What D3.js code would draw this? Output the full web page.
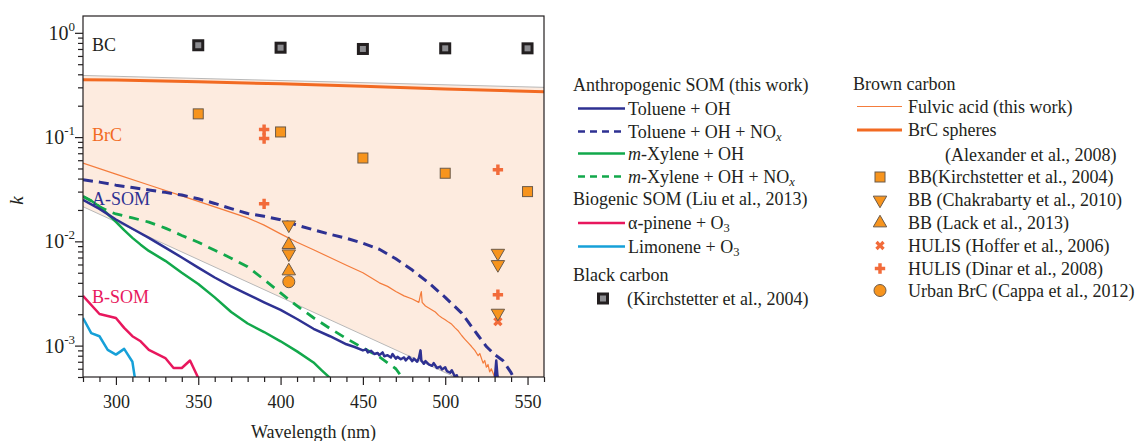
<!DOCTYPE html>
<html><head><meta charset="utf-8">
<script src="https://cdn.jsdelivr.net/npm/d3@7"></script>
<style>
body{margin:0;background:#fff}
svg{display:block}
svg text{font-family:"Liberation Serif","DejaVu Serif",serif;fill:#231f20}
</style>
</head><body>
<svg id="chart" width="1137" height="441" font-family="Liberation Serif, DejaVu Serif, serif"></svg>
<script>
// ---- data: [wavelength (nm), imaginary refractive index k] ----
const wavelengthTicks = [300, 350, 400, 450, 500, 550];
const kDecades = [1e-3, 1e-2, 1e-1, 1e0];
const kDecadeExponents = ["-3", "-2", "-1", "0"];

// shaded BrC band boundaries
const brcUpperBound = [[280, 0.39], [560, 0.30]];
const brcLowerBound = [[280, 0.0215], [560, 0.000203]];

const brcSpheres = [[280, 0.355], [300, 0.352], [350, 0.340], [400, 0.324], [450, 0.307], [500, 0.290], [560, 0.272]];

const fulvicAcid = [[280, 0.0563], [300, 0.0442], [320, 0.0347], [340, 0.0273], [360, 0.0214], [380, 0.0168],
  [390, 0.0143], [400, 0.0118], [410, 0.0098], [420, 0.0083], [430, 0.0070], [440, 0.0059], [450, 0.0050],
  [460, 0.0040], [465, 0.0037], [470, 0.0033], [475, 0.0030], [480, 0.0028], [484, 0.0026], [485, 0.0031],
  [485.5, 0.0033], [486, 0.0026], [488, 0.0024], [490, 0.0023], [492, 0.0022], [494, 0.0021], [496, 0.00195],
  [498, 0.00185], [500, 0.00177], [502, 0.00168], [504, 0.00160], [506, 0.00148], [508, 0.00138], [510, 0.00125],
  [512, 0.00115], [514, 0.00106], [516, 0.00098], [518, 0.00090], [520, 0.00080], [521, 0.00084], [523, 0.00068],
  [524, 0.00072], [525, 0.00062], [526, 0.00066], [527, 0.00056], [528, 0.00060], [530, 0.00050], [532, 0.00052],
  [534, 0.00045], [560, 0.0002]];

const tolueneOH = [[280, 0.0250], [290, 0.0205], [300, 0.0162], [310, 0.0132], [320, 0.0108], [330, 0.0087],
  [340, 0.0070], [350, 0.0056], [360, 0.0045], [370, 0.0037], [380, 0.0031], [390, 0.0026], [400, 0.0022],
  [410, 0.00180], [420, 0.00145], [430, 0.00123], [440, 0.00103], [445, 0.00097], [450, 0.00090], [452, 0.00092],
  [453, 0.00086], [455, 0.00089], [457, 0.00083], [459, 0.00085], [460, 0.00081], [462, 0.00086], [463, 0.00079],
  [465, 0.00081], [467, 0.00077], [468, 0.00083], [470, 0.00075], [471, 0.00078], [473, 0.00074], [475, 0.00077],
  [476, 0.00072], [478, 0.00078], [480, 0.00071], [481, 0.00075], [483, 0.00070], [484, 0.00076], [485, 0.00090],
  [485.5, 0.00072], [487, 0.00067], [488, 0.00071], [490, 0.00066], [492, 0.00064], [493, 0.00068], [495, 0.00061],
  [497, 0.00063], [498, 0.00059], [500, 0.00062], [501, 0.00057], [503, 0.00055], [504, 0.00058], [506, 0.00050],
  [507, 0.00052], [508, 0.00047], [510, 0.00045], [530, 0.00045], [531, 0.00072], [532, 0.00045]];

const tolueneOHNOx = [[280, 0.0390], [290, 0.0370], [300, 0.0346], [310, 0.0328], [320, 0.0311], [330, 0.0295],
  [340, 0.0278], [350, 0.0256], [360, 0.0231], [370, 0.0206], [380, 0.0185], [390, 0.0174], [400, 0.0161],
  [410, 0.0143], [420, 0.0129], [430, 0.0117], [440, 0.0107], [450, 0.0096], [460, 0.0084], [470, 0.0068],
  [480, 0.0053], [490, 0.0040], [500, 0.0029], [510, 0.00205], [520, 0.00125], [525, 0.00098], [530, 0.00082],
  [535, 0.00072], [540, 0.00055], [542, 0.00048]];

const xyleneOH = [[280, 0.0270], [285, 0.0245], [290, 0.0216], [295, 0.0183], [300, 0.0154], [305, 0.0128],
  [310, 0.0108], [315, 0.0093], [320, 0.0081], [330, 0.0065], [340, 0.0050], [350, 0.0039], [360, 0.0029],
  [370, 0.0021], [380, 0.00163], [390, 0.00135], [400, 0.00110], [410, 0.00088], [420, 0.00069], [425, 0.00058],
  [430, 0.00049]];

const xyleneOHNOx = [[280, 0.0270], [285, 0.0245], [290, 0.0215], [295, 0.0196], [300, 0.0183], [310, 0.0168],
  [320, 0.0153], [330, 0.0134], [340, 0.0114], [350, 0.0098], [360, 0.0082], [370, 0.0069], [380, 0.0057],
  [390, 0.0043], [400, 0.0032], [410, 0.0024], [420, 0.00185], [430, 0.00146], [440, 0.00117], [450, 0.00095],
  [460, 0.00078], [470, 0.00060], [474, 0.00049]];

const alphaPineneO3 = [[280, 0.00300], [290, 0.00201], [300, 0.00184], [305, 0.00148], [310, 0.00123],
  [315, 0.00110], [320, 0.00091], [330, 0.00076], [335, 0.00061], [340, 0.00061], [345, 0.00072], [350, 0.00049]];

const limoneneO3 = [[280, 0.00184], [285, 0.00132], [290, 0.00123], [295, 0.00091], [300, 0.00082],
  [305, 0.00093], [310, 0.00070], [311.5, 0.00049]];

// literature points
const bcKirchstetter = [[350, 0.76], [400, 0.72], [450, 0.70], [500, 0.71], [550, 0.71]];
const bbKirchstetter = [[350, 0.167], [400, 0.112], [450, 0.063], [500, 0.045], [550, 0.030]];
const bbChakrabarty = [[405, 0.0144], [405, 0.0076], [532, 0.0077], [532, 0.0060], [532, 0.00205]];
const bbLack = [[405, 0.0093], [405, 0.0052]];
const hulisHoffer = [[532, 0.0017]];
const hulisDinar = [[390, 0.118], [390, 0.097], [390, 0.0229], [532, 0.0486], [532, 0.00308]];
const urbanBrcCappa = [[405, 0.0041]];

// ---- drawing ----
const C = {
  navy: "#2e3192", green: "#12a84b", pink: "#e8175d", cyan: "#16a0d8",
  brc: "#f26a22", fulvic: "#f47c3c", marker: "#f7941d", plus: "#f26b3a",
  band: "#fdebdf", grey: "#b8b8b8", ink: "#231f20"
};
const SERIF = "Liberation Serif, DejaVu Serif, serif";

const svg = d3.select("#chart");
const plotLeft = 83, plotRight = 544, plotTop = 16, plotBottom = 377;
const x = d3.scaleLinear().domain([280, 560]).range([plotLeft, plotRight]);
const y = d3.scaleLog().domain([5e-4, 1.45]).range([plotBottom, plotTop]);

svg.append("defs").append("clipPath").attr("id", "plotClip")
  .append("rect").attr("x", plotLeft).attr("y", plotTop)
  .attr("width", plotRight - plotLeft).attr("height", plotBottom - plotTop);

const plot = svg.append("g").attr("clip-path", "url(#plotClip)");
const line = d3.line().x(d => x(d[0])).y(d => y(d[1]));

// BrC band
plot.append("path")
  .attr("d", line(brcUpperBound.concat(brcLowerBound.slice().reverse())) + "Z")
  .attr("fill", C.band);
[brcUpperBound, brcLowerBound].forEach(b =>
  plot.append("path").attr("d", line(b)).attr("fill", "none").attr("stroke", C.grey).attr("stroke-width", 1));

function drawLine(data, color, width, dash) {
  plot.append("path").datum(data).attr("d", line).attr("fill", "none")
    .attr("stroke", color).attr("stroke-width", width)
    .attr("stroke-linejoin", "round")
    .attr("stroke-dasharray", dash || null);
}
drawLine(brcSpheres, C.brc, 3);
drawLine(fulvicAcid, C.fulvic, 1.2);
drawLine(limoneneO3, C.cyan, 2.5);
drawLine(alphaPineneO3, C.pink, 2.5);
drawLine(xyleneOH, C.green, 2.5);
drawLine(xyleneOHNOx, C.green, 2.8, "10,7");
drawLine(tolueneOH, C.navy, 2.5);
drawLine(tolueneOHNOx, C.navy, 3, "10,6");

// markers
const sym = {
  bcSquare: g => g.append("rect").attr("x", -4.5).attr("y", -4.5).attr("width", 9).attr("height", 9)
    .attr("fill", "#8c8c90").attr("stroke", C.ink).attr("stroke-width", 3),
  bbSquare: g => g.append("rect").attr("x", -5).attr("y", -5).attr("width", 10).attr("height", 10)
    .attr("fill", C.marker).attr("stroke", "#6b5a4a").attr("stroke-width", 1),
  downTri: g => g.append("path").attr("d", d3.symbol(d3.symbolTriangle, 78)()).attr("transform", "rotate(180)")
    .attr("fill", C.marker).attr("stroke", "#6b5a4a").attr("stroke-width", 1),
  upTri: g => g.append("path").attr("d", d3.symbol(d3.symbolTriangle, 78)())
    .attr("fill", C.marker).attr("stroke", "#6b5a4a").attr("stroke-width", 1),
  cross: g => g.append("path").attr("d", d3.symbol(d3.symbolCross, 60)()).attr("fill", C.plus),
  xcross: g => g.append("path").attr("d", d3.symbol(d3.symbolCross, 55)()).attr("transform", "rotate(45)").attr("fill", C.plus),
  circle: g => g.append("circle").attr("r", 6)
    .attr("fill", C.marker).attr("stroke", "#6b5a4a").attr("stroke-width", 1)
};
function drawPoints(data, kind) {
  data.forEach(d => sym[kind](svg.append("g").attr("transform", `translate(${x(d[0])},${y(d[1])})`)));
}
drawPoints(bcKirchstetter, "bcSquare");
drawPoints(bbKirchstetter, "bbSquare");
drawPoints(hulisDinar, "cross");
drawPoints(hulisHoffer, "xcross");
drawPoints(bbChakrabarty, "downTri");
drawPoints(bbLack, "upTri");
drawPoints(urbanBrcCappa, "circle");

// region labels
const regionLabels = [["BC", 0.76, C.ink], ["BrC", 0.104, C.brc], ["A-SOM", 0.0252, C.navy], ["B-SOM", 0.00295, C.pink]];
regionLabels.forEach(([t, k, c]) => svg.append("text").attr("x", 92).attr("y", y(k))
  .attr("dominant-baseline", "central").attr("font-family", SERIF).attr("font-size", 18).style("fill", c).text(t));

// frame
svg.append("rect").attr("x", plotLeft).attr("y", plotTop)
  .attr("width", plotRight - plotLeft).attr("height", plotBottom - plotTop)
  .attr("fill", "none").attr("stroke", C.ink).attr("stroke-width", 1.2);

// x axis
const minorX = d3.range(280, 561, 10).filter(v => !wavelengthTicks.includes(v));
const gx = svg.append("g").attr("transform", `translate(0,${plotBottom})`);
gx.append("g").call(d3.axisBottom(x).tickValues(minorX).tickSize(5).tickFormat(""));
gx.append("g").call(d3.axisBottom(x).tickValues(wavelengthTicks).tickSize(8).tickPadding(10));
gx.selectAll(".domain").remove();
gx.selectAll("g").attr("font-family", SERIF);
gx.selectAll("line").attr("stroke", C.ink).attr("stroke-width", 1.2);
gx.selectAll("text").attr("font-size", 18).attr("font-family", SERIF).style("fill", C.ink);

svg.append("text").attr("x", (plotLeft + plotRight) / 2).attr("y", 432).attr("text-anchor", "middle")
  .attr("dominant-baseline", "central").attr("font-family", SERIF).attr("font-size", 18).text("Wavelength (nm)");

// y axis
const minorY = [];
[1e-4, 1e-3, 1e-2, 1e-1, 1].forEach(dec => d3.range(2, 10).forEach(m => {
  const v = dec * m; if (v >= 5e-4 && v <= 1.45) minorY.push(v);
}));
const gy = svg.append("g").attr("transform", `translate(${plotLeft},0)`);
gy.append("g").call(d3.axisLeft(y).tickValues(minorY).tickSize(5).tickFormat(""));
gy.append("g").call(d3.axisLeft(y).tickValues(kDecades).tickSize(8).tickFormat(""));
gy.selectAll(".domain").remove();
gy.selectAll("line").attr("stroke", C.ink).attr("stroke-width", 1.2);

kDecades.forEach((v, i) => {
  const t = svg.append("text").attr("x", 75).attr("y", y(v) + 7).attr("text-anchor", "end")
    .attr("font-family", SERIF).attr("font-size", 20);
  t.append("tspan").text("10");
  t.append("tspan").attr("font-size", 13).attr("dy", -9).text(kDecadeExponents[i]);
});
svg.append("text").attr("transform", `translate(16,${(plotTop + plotBottom) / 2 + 4}) rotate(-90)`)
  .attr("text-anchor", "middle").attr("dominant-baseline", "central")
  .attr("font-family", SERIF).attr("font-size", 19).attr("font-style", "italic").text("k");

// legend
function richText(g, parts, xPos, yPos) {
  const t = g.append("text").attr("x", xPos).attr("y", yPos).attr("dominant-baseline", "central")
    .attr("font-family", SERIF).attr("font-size", 18);
  parts.forEach(p => {
    if (typeof p === "string") { t.append("tspan").text(p); return; }
    const s = t.append("tspan").text(p.t);
    if (p.i) s.attr("font-style", "italic");
    if (p.sub) s.attr("font-size", 12.5).attr("dy", 5);
  });
  return t;
}
const leg = svg.append("g");
const NOx = ["NO", { t: "x", i: true, sub: true }];
const O3 = ["O", { t: "3", sub: true }];

const col1 = [
  { head: "Anthropogenic SOM (this work)", y: 85 },
  { parts: ["Toluene + OH"], y: 108.5, color: C.navy },
  { parts: ["Toluene + OH + ", ...NOx], y: 131.5, color: C.navy, dash: "7,5" },
  { parts: [{ t: "m", i: true }, "-Xylene + OH"], y: 153.5, color: C.green },
  { parts: [{ t: "m", i: true }, "-Xylene + OH + ", ...NOx], y: 176.5, color: C.green, dash: "7,5" },
  { head: "Biogenic SOM (Liu et al., 2013)", y: 198.5 },
  { parts: ["\u03b1-pinene + ", ...O3], y: 223, color: C.pink },
  { parts: ["Limonene + ", ...O3], y: 246.5, color: C.cyan },
  { head: "Black carbon", y: 275 },
  { parts: ["(Kirchstetter et al., 2004)"], y: 298.5, marker: "bcSquare" }
];
col1.forEach(r => {
  if (r.head) { richText(leg, [r.head], 573, r.y); return; }
  if (r.marker) {
    sym[r.marker](leg.append("g").attr("transform", `translate(603,${r.y})`));
    richText(leg, r.parts, 627, r.y);
    return;
  }
  leg.append("line").attr("x1", 578).attr("x2", 625).attr("y1", r.y).attr("y2", r.y)
    .attr("stroke", r.color).attr("stroke-width", 2.5).attr("stroke-dasharray", r.dash || null);
  richText(leg, r.parts, 628, r.y);
});

const col2 = [
  { head: "Brown carbon", y: 83.5 },
  { parts: ["Fulvic acid (this work)"], y: 106.5, color: C.fulvic, w: 1.2 },
  { parts: ["BrC spheres"], y: 130, color: C.brc, w: 3 },
  { parts: ["(Alexander et al., 2008)"], y: 155, indent: true },
  { parts: ["BB(Kirchstetter et al., 2004)"], y: 177, marker: "bbSquare" },
  { parts: ["BB (Chakrabarty et al., 2010)"], y: 200, marker: "downTri" },
  { parts: ["BB (Lack et al., 2013)"], y: 223, marker: "upTri" },
  { parts: ["HULIS (Hoffer et al., 2006)"], y: 245.5, marker: "xcross" },
  { parts: ["HULIS (Dinar et al., 2008)"], y: 268.5, marker: "cross" },
  { parts: ["Urban BrC (Cappa et al., 2012)"], y: 290.5, marker: "circle" }
];
col2.forEach(r => {
  if (r.head) { richText(leg, [r.head], 853, r.y); return; }
  if (r.indent) { richText(leg, r.parts, 945, r.y); return; }
  if (r.marker) {
    sym[r.marker](leg.append("g").attr("transform", `translate(880,${r.y})`));
  } else {
    leg.append("line").attr("x1", 857).attr("x2", 902).attr("y1", r.y).attr("y2", r.y)
      .attr("stroke", r.color).attr("stroke-width", r.w);
  }
  richText(leg, r.parts, 908, r.y);
});
</script>
</body></html>
